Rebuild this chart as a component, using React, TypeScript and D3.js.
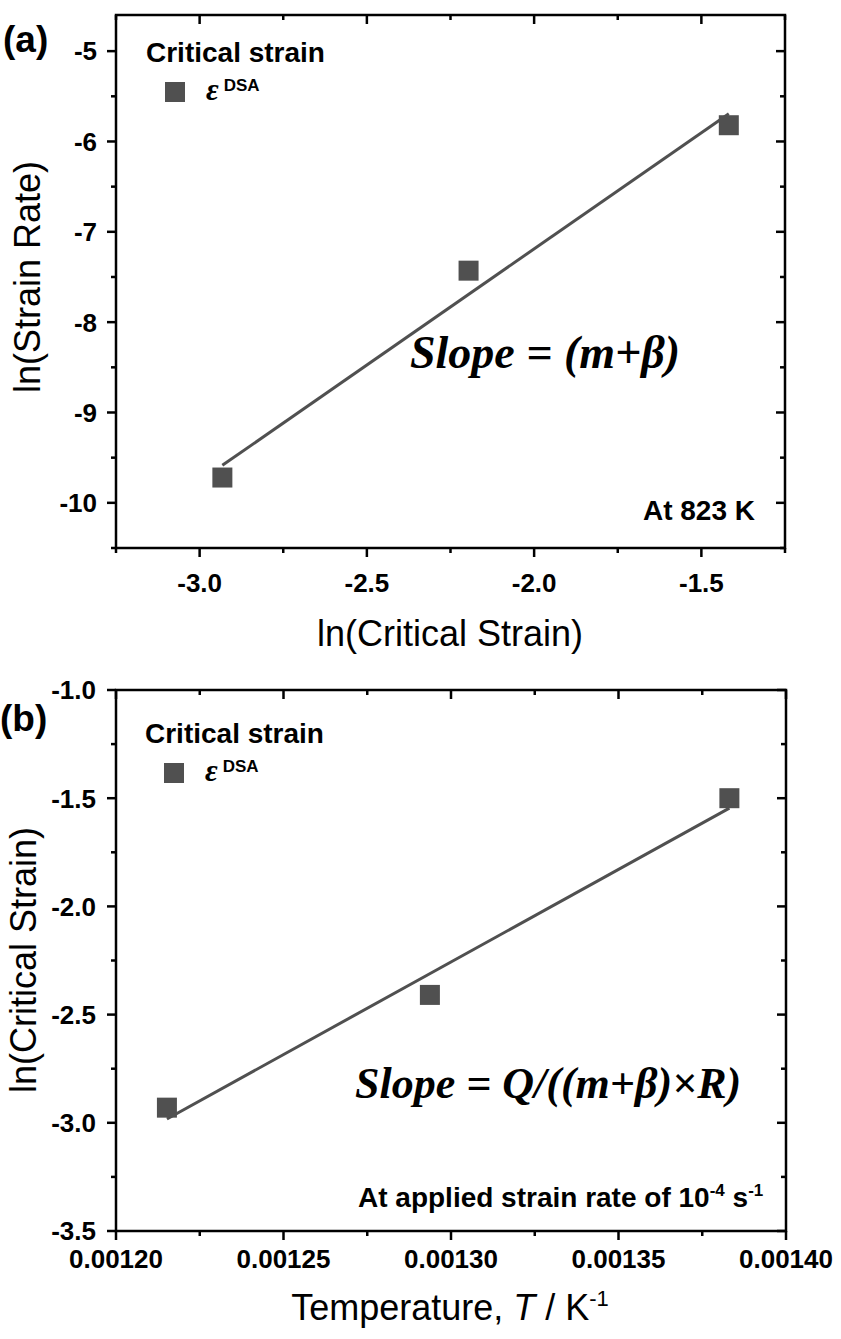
import React from "react";
import * as d3 from "d3";

// Panel (a): ln(strain rate) against ln(critical strain) at 823 K
const lnCriticalStrainA = [-2.932, -2.196, -1.418];
const lnStrainRateA = [-9.72, -7.43, -5.82];
const xTicksA = [-3.0, -2.5, -2.0, -1.5];
const yTicksA = [-5, -6, -7, -8, -9, -10];

// Panel (b): ln(critical strain) against inverse temperature
const inverseTemperatureB = [0.0012152, 0.0012937, 0.0013831];
const lnCriticalStrainB = [-2.93, -2.409, -1.5];
const xTicksB = [0.0012, 0.00125, 0.0013, 0.00135, 0.0014];
const yTicksB = [-1.0, -1.5, -2.0, -2.5, -3.0, -3.5];

const locale = d3.formatLocale({
  decimal: ".",
  thousands: ",",
  grouping: [3],
  currency: ["", ""],
  minus: "-",
});

const SANS = "'Liberation Sans', Arial, Helvetica, sans-serif";
const SERIF = "'Liberation Serif', 'Times New Roman', Times, serif";
const MARK = "#505050";
const AXIS_W = 2.5;

function linearFit(xs: number[], ys: number[]) {
  const mx = d3.mean(xs)!;
  const my = d3.mean(ys)!;
  let sxy = 0;
  let sxx = 0;
  xs.forEach((x, i) => {
    sxy += (x - mx) * (ys[i] - my);
    sxx += (x - mx) * (x - mx);
  });
  const slope = sxy / sxx;
  return (x: number) => my + slope * (x - mx);
}

type PanelProps = {
  xs: number[];
  ys: number[];
  xDomain: [number, number];
  yDomain: [number, number];
  xRange: [number, number];
  yRange: [number, number];
  xTicks: number[];
  yTicks: number[];
  xMinorStep: number;
  yMinorStep: number;
  xFormat: (v: number) => string;
  yFormat: (v: number) => string;
  xLabelY: number;
  yLabelX: number;
};

function Frame(p: PanelProps) {
  const x = d3.scaleLinear().domain(p.xDomain).range(p.xRange);
  const y = d3.scaleLinear().domain(p.yDomain).range(p.yRange);
  const [x0, x1] = p.xRange;
  const [y0, y1] = p.yRange; // y0 bottom, y1 top
  const eps = 1e-9;
  const xMinor = d3
    .range(p.xDomain[0], p.xDomain[1] + p.xMinorStep / 2, p.xMinorStep)
    .filter((v) => !p.xTicks.some((t) => Math.abs(t - v) < p.xMinorStep / 10));
  const yMinor = d3
    .range(Math.ceil(p.yDomain[0] / p.yMinorStep - eps) * p.yMinorStep, p.yDomain[1] + eps, p.yMinorStep)
    .filter((v) => !p.yTicks.some((t) => Math.abs(t - v) < p.yMinorStep / 10));
  const fit = linearFit(p.xs, p.ys);
  const xmin = d3.min(p.xs)!;
  const xmax = d3.max(p.xs)!;
  const MAJ = 9;
  const MIN = 5;
  return (
    <g>
      {/* fitted line */}
      <line
        x1={x(xmin)}
        y1={y(fit(xmin))}
        x2={x(xmax)}
        y2={y(fit(xmax))}
        stroke={MARK}
        strokeWidth={3}
      />
      {/* data markers */}
      {p.xs.map((v, i) => (
        <rect key={i} x={x(v) - 10} y={y(p.ys[i]) - 10} width={20} height={20} fill={MARK} />
      ))}
      {/* frame */}
      <rect x={x0} y={y1} width={x1 - x0} height={y0 - y1} fill="none" stroke="#000" strokeWidth={AXIS_W} />
      {/* major ticks */}
      {p.xTicks.map((t) => (
        <g key={"xt" + t}>
          <line x1={x(t)} x2={x(t)} y1={y0} y2={y0 + MAJ} stroke="#000" strokeWidth={AXIS_W} />
          <line x1={x(t)} x2={x(t)} y1={y1} y2={y1 + MAJ} stroke="#000" strokeWidth={AXIS_W} />
          <text
            x={x(t)}
            y={p.xLabelY}
            textAnchor="middle"
            fontFamily={SANS}
            fontWeight="bold"
            fontSize={26}
          >
            {p.xFormat(t)}
          </text>
        </g>
      ))}
      {xMinor.map((t) => (
        <g key={"xm" + t}>
          <line x1={x(t)} x2={x(t)} y1={y0} y2={y0 + MIN} stroke="#000" strokeWidth={AXIS_W} />
          <line x1={x(t)} x2={x(t)} y1={y1} y2={y1 + MIN} stroke="#000" strokeWidth={AXIS_W} />
        </g>
      ))}
      {p.yTicks.map((t) => (
        <g key={"yt" + t}>
          <line x1={x0 - MAJ} x2={x0} y1={y(t)} y2={y(t)} stroke="#000" strokeWidth={AXIS_W} />
          <line x1={x1 - MAJ} x2={x1} y1={y(t)} y2={y(t)} stroke="#000" strokeWidth={AXIS_W} />
          <text
            x={p.yLabelX}
            y={y(t)}
            dy="0.36em"
            textAnchor="end"
            fontFamily={SANS}
            fontWeight="bold"
            fontSize={26}
          >
            {p.yFormat(t)}
          </text>
        </g>
      ))}
      {yMinor.map((t) => (
        <g key={"ym" + t}>
          <line x1={x0 - MIN} x2={x0} y1={y(t)} y2={y(t)} stroke="#000" strokeWidth={AXIS_W} />
          <line x1={x1 - MIN} x2={x1} y1={y(t)} y2={y(t)} stroke="#000" strokeWidth={AXIS_W} />
        </g>
      ))}
    </g>
  );
}

function Legend({ x, y }: { x: number; y: number }) {
  return (
    <g>
      <text x={x} y={y} fontFamily={SANS} fontWeight="bold" fontSize={28}>
        Critical strain
      </text>
      <rect x={x + 19} y={y + 20} width={20} height={20} fill={MARK} />
      <text x={x + 60} y={y + 38} fontFamily={SERIF} fontWeight="bold" fontStyle="italic" fontSize={31}>
        ε
        <tspan dx={5} dy={-9} fontFamily={SANS} fontStyle="normal" fontSize={17}>
          DSA
        </tspan>
      </text>
    </g>
  );
}

export default function App() {
  const fmt1 = locale.format(".1f");
  const fmtInt = locale.format("d");
  const fmt5 = locale.format(".5f");
  return (
    <svg
      width={841}
      height={1339}
      viewBox="0 0 841 1339"
      style={{ position: "absolute", left: 0, top: 0, background: "#fff" }}
    >
      <rect width={841} height={1339} fill="#fff" />

      {/* panel (a) */}
      <Frame
        xs={lnCriticalStrainA}
        ys={lnStrainRateA}
        xDomain={[-3.25, -1.25]}
        yDomain={[-10.5, -4.6]}
        xRange={[116, 785]}
        yRange={[548, 15]}
        xTicks={xTicksA}
        yTicks={yTicksA}
        xMinorStep={0.25}
        yMinorStep={0.5}
        xFormat={fmt1}
        yFormat={fmtInt}
        xLabelY={592}
        yLabelX={97}
      />
      <text x={3} y={52} fontFamily={SANS} fontWeight="bold" fontSize={37}>
        (a)
      </text>
      <Legend x={146} y={62} />
      <text x={755} y={520} textAnchor="end" fontFamily={SANS} fontWeight="bold" fontSize={28}>
        At 823 K
      </text>
      <text x={410} y={368} fontFamily={SERIF} fontWeight="bold" fontStyle="italic" fontSize={46}>
        Slope = (m+β)
      </text>
      <text x={450} y={646} textAnchor="middle" fontFamily={SANS} fontSize={36}>
        ln(Critical Strain)
      </text>
      <text
        transform="translate(40,277) rotate(-90)"
        textAnchor="middle"
        fontFamily={SANS}
        fontSize={36}
      >
        ln(Strain Rate)
      </text>

      {/* panel (b) */}
      <Frame
        xs={inverseTemperatureB}
        ys={lnCriticalStrainB}
        xDomain={[0.0012, 0.0014]}
        yDomain={[-3.5, -1.0]}
        xRange={[116, 786]}
        yRange={[1231, 690]}
        xTicks={xTicksB}
        yTicks={yTicksB}
        xMinorStep={0.000025}
        yMinorStep={0.25}
        xFormat={fmt5}
        yFormat={fmt1}
        xLabelY={1268}
        yLabelX={96}
      />
      <text x={0} y={731} fontFamily={SANS} fontWeight="bold" fontSize={37}>
        (b)
      </text>
      <Legend x={145} y={743} />
      <text x={358} y={1207} fontFamily={SANS} fontWeight="bold" fontSize={28}>
        At applied strain rate of 10
        <tspan dy={-11} fontSize={17}>
          -4
        </tspan>
        <tspan dy={11}> s</tspan>
        <tspan dy={-11} fontSize={17}>
          -1
        </tspan>
      </text>
      <text x={355} y={1098} fontFamily={SERIF} fontWeight="bold" fontStyle="italic" fontSize={44}>
        Slope = Q/((m+β)×R)
      </text>
      <text x={450} y={1320} textAnchor="middle" fontFamily={SANS} fontSize={36}>
        Temperature, <tspan fontStyle="italic">T</tspan> / K
        <tspan dy={-14} fontSize={22}>
          -1
        </tspan>
      </text>
      <text
        transform="translate(36,960) rotate(-90)"
        textAnchor="middle"
        fontFamily={SANS}
        fontSize={36}
      >
        ln(Critical Strain)
      </text>
    </svg>
  );
}
